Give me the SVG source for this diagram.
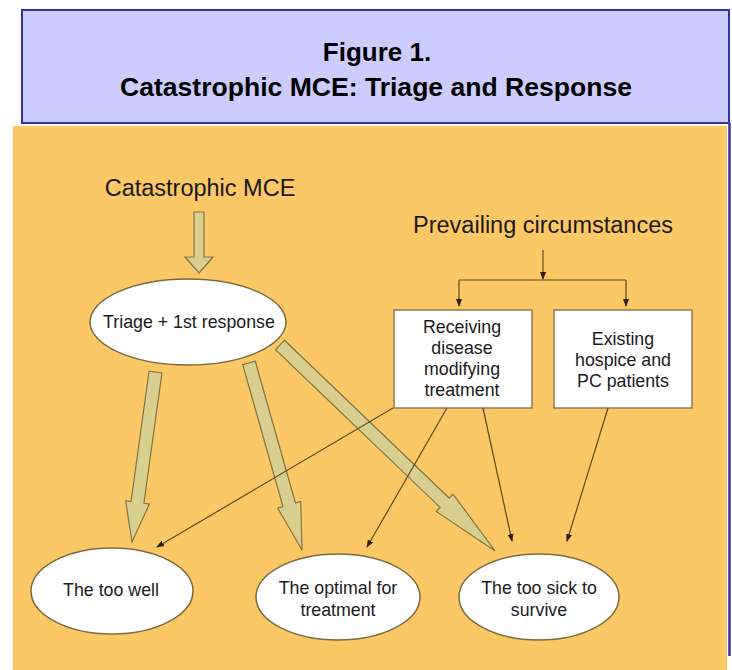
<svg xmlns="http://www.w3.org/2000/svg" width="732" height="670" viewBox="0 0 732 670">
<style>
.title{font-family:"Liberation Sans",Arial,sans-serif;font-weight:bold;font-size:26px;fill:#000;text-anchor:middle}
.big{font-family:"Liberation Sans",Arial,sans-serif;font-size:23.5px;fill:#1a1a1a;text-anchor:middle}
.lbl{font-family:"Liberation Sans",Arial,sans-serif;font-size:17.8px;fill:#1a1a1a;text-anchor:middle}
.ell{fill:#ffffff;stroke:#7a6a40;stroke-width:1.5}
.box{fill:#ffffff;stroke:#8a7a5a;stroke-width:1.5}
.blk{fill:#d8cf8e;stroke:#7d7445;stroke-width:1.2;stroke-linejoin:miter}
.thin{fill:none;stroke:#5c4a1e;stroke-width:1.2}
</style>
<defs>
<marker id="ah" markerUnits="userSpaceOnUse" markerWidth="8" markerHeight="8" viewBox="0 0 8 8" refX="7" refY="4" orient="auto">
<path d="M0,1 L8,4 L0,7 Z" fill="#2a200a"/>
</marker>
</defs>
<rect x="0" y="0" width="732" height="670" fill="#ffffff"/>
<rect x="13" y="126" width="714" height="544" fill="#fcc865"/>
<g id="title">
<rect x="22" y="10" width="707" height="113" fill="#ccccff" stroke="#333399" stroke-width="2"/>
<line x1="729.5" y1="123" x2="729.5" y2="656" stroke="#333399" stroke-width="2.5"/>
<text class="title" x="377" y="61">Figure 1.</text>
<text class="title" x="376" y="96" textLength="512" lengthAdjust="spacingAndGlyphs">Catastrophic MCE: Triage and Response</text>
</g>
<g id="catastrophic-mce">
<text class="big" x="200" y="196">Catastrophic MCE</text>
</g>
<g id="prevailing">
<text class="big" x="543" y="233">Prevailing circumstances</text>
</g>
<g id="triage">
<ellipse class="ell" cx="188" cy="322" rx="98" ry="43"/>
<text class="lbl" x="189" y="328">Triage + 1st response</text>
</g>
<g id="receiving">
<rect class="box" x="394" y="310" width="138" height="98"/>
<text class="lbl" x="462" y="333">Receiving</text>
<text class="lbl" x="462" y="354">disease</text>
<text class="lbl" x="462" y="375">modifying</text>
<text class="lbl" x="462" y="396">treatment</text>
</g>
<g id="existing">
<rect class="box" x="554" y="310" width="138" height="98"/>
<text class="lbl" x="623" y="345">Existing</text>
<text class="lbl" x="623" y="366">hospice and</text>
<text class="lbl" x="623" y="387">PC patients</text>
</g>
<g id="too-well">
<ellipse class="ell" cx="112" cy="591" rx="81" ry="43"/>
<text class="lbl" x="111" y="596">The too well</text>
</g>
<g id="optimal">
<ellipse class="ell" cx="338" cy="597" rx="82" ry="43"/>
<text class="lbl" x="338" y="594">The optimal for</text>
<text class="lbl" x="338" y="616">treatment</text>
</g>
<g id="too-sick">
<ellipse class="ell" cx="539" cy="597" rx="80" ry="43"/>
<text class="lbl" x="539" y="594">The too sick to</text>
<text class="lbl" x="539" y="616">survive</text>
</g>
<g id="connectors">
<polygon class="blk" points="194,212 204,212 204,257 213,257 199,273 185,257 194,257"/>
<path class="blk" transform="translate(155.5,372) rotate(97.87)" d="M0,-6.5 L131.6,-6.5 L131.6,-12 L171.6,0 L131.6,12 L131.6,6.5 L0,6.5 Z"/>
<path class="blk" transform="translate(249,363) rotate(74.17)" d="M0,-6.5 L147.4,-6.5 L147.4,-12 L194.4,0 L147.4,12 L147.4,6.5 L0,6.5 Z"/>
<path class="blk" transform="translate(280,345) rotate(43.77)" d="M0,-6.5 L228,-6.5 L228,-12 L297.8,0 L228,12 L228,6.5 L0,6.5 Z"/>
<line class="thin" x1="543" y1="250" x2="543" y2="279" marker-end="url(#ah)"/>
<line class="thin" x1="459" y1="280" x2="626" y2="280"/>
<line class="thin" x1="459" y1="280" x2="459" y2="306" marker-end="url(#ah)"/>
<line class="thin" x1="626" y1="280" x2="626" y2="306" marker-end="url(#ah)"/>
<line class="thin" x1="393" y1="408" x2="157" y2="547" marker-end="url(#ah)"/>
<line class="thin" x1="447" y1="408" x2="367" y2="547" marker-end="url(#ah)"/>
<line class="thin" x1="483" y1="408" x2="512" y2="541" marker-end="url(#ah)"/>
<line class="thin" x1="608" y1="408" x2="567" y2="541" marker-end="url(#ah)"/>
</g>
</svg>
